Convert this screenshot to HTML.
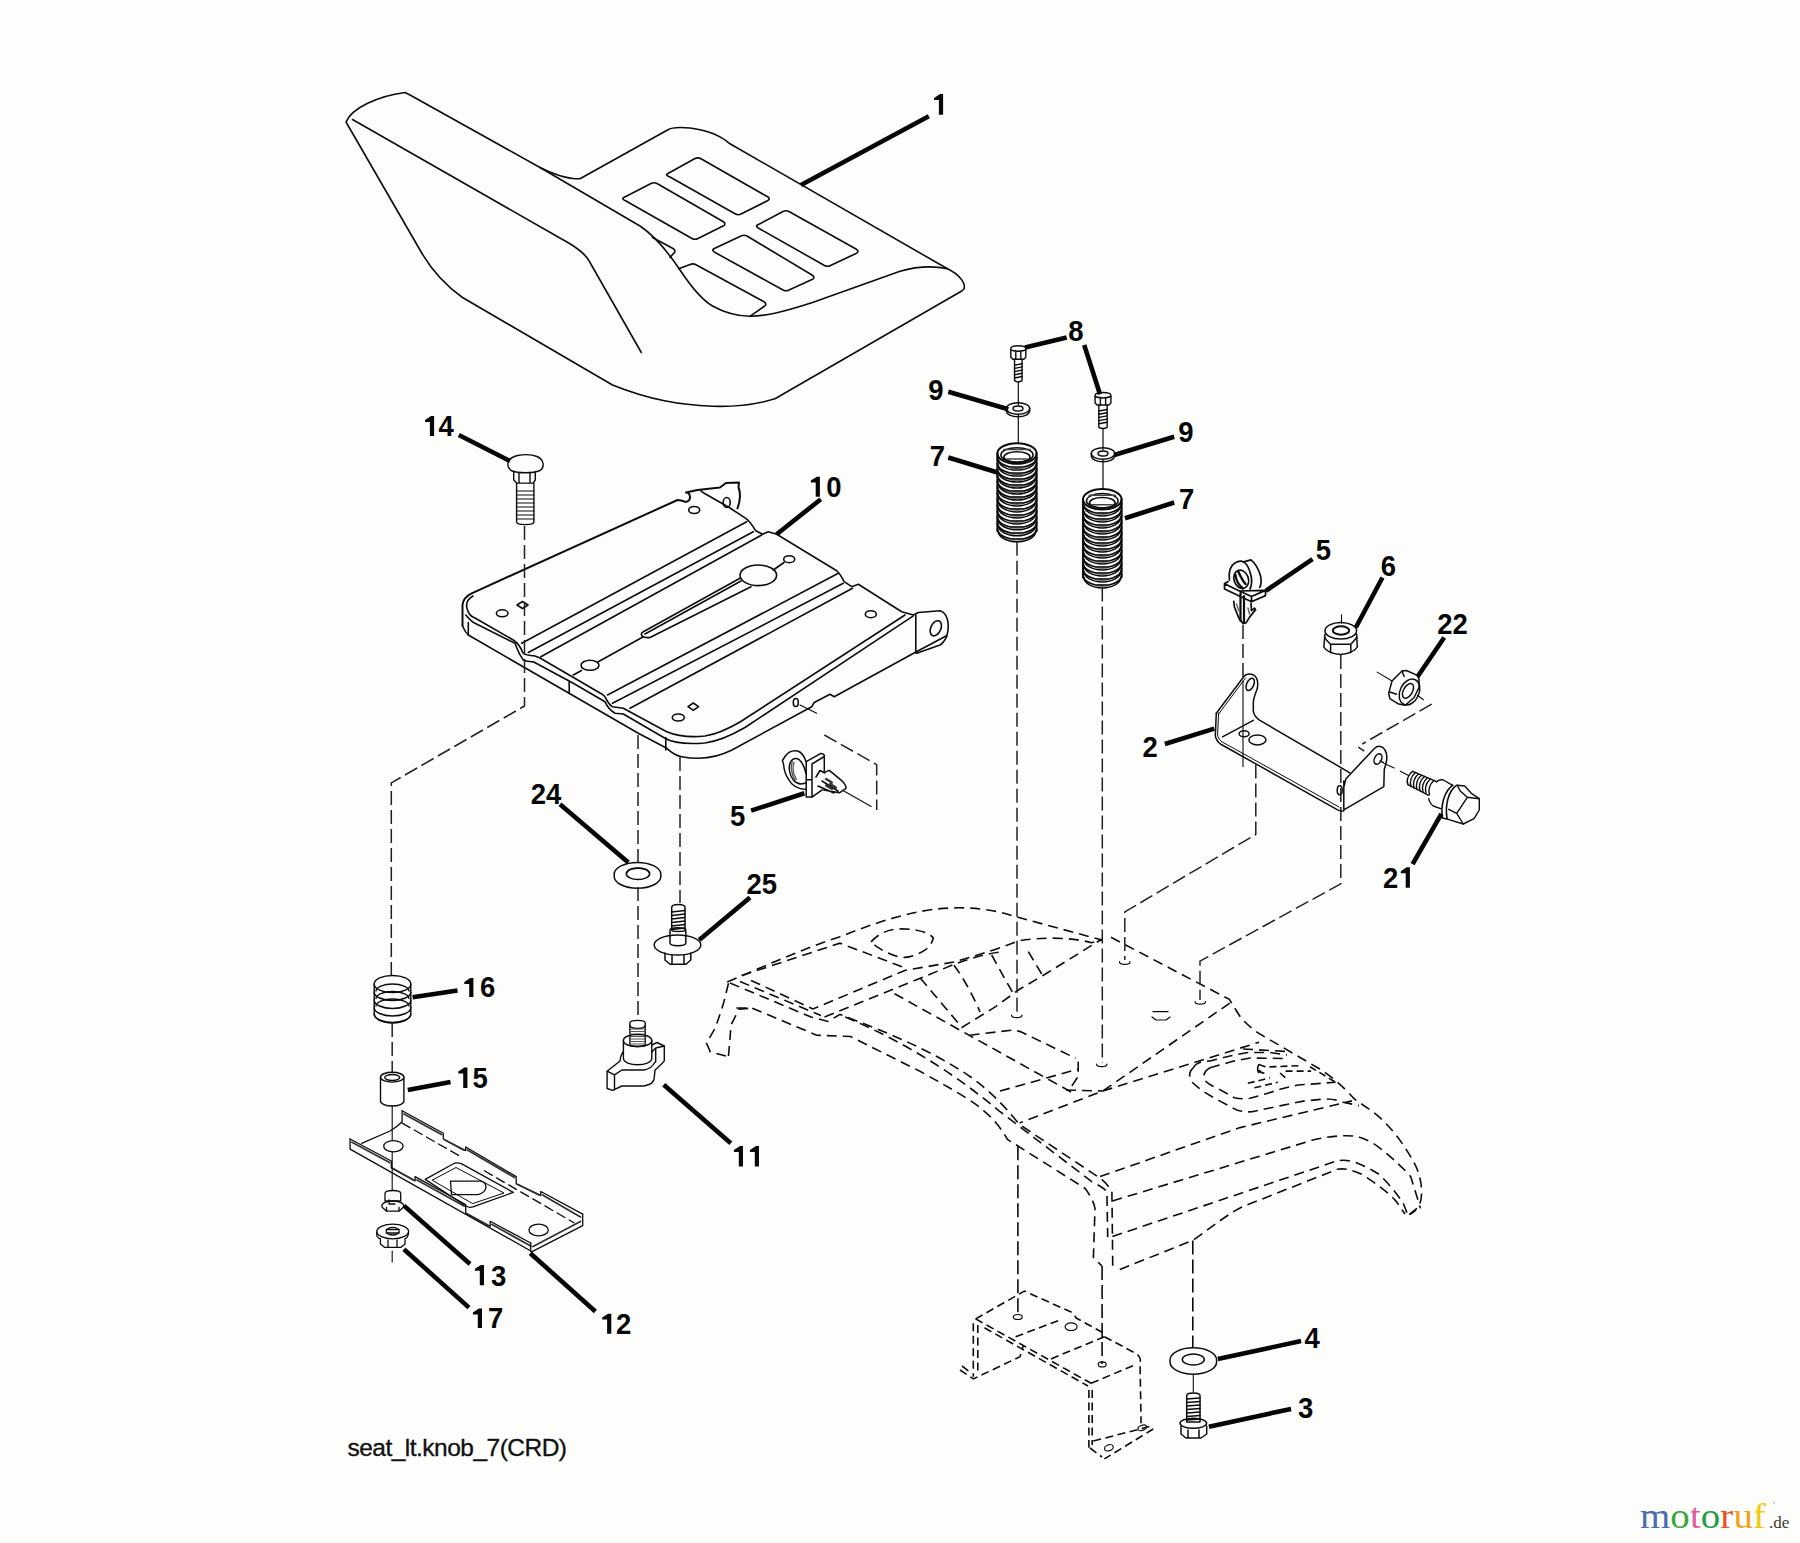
<!DOCTYPE html>
<html><head><meta charset="utf-8">
<style>
html,body{margin:0;padding:0;background:#fdfefc;width:1800px;height:1543px;overflow:hidden}
svg{position:absolute;left:0;top:0}
.t{fill:none;stroke:#0c0c0c;stroke-width:1.6;stroke-linejoin:round;stroke-linecap:round}
.d{fill:none;stroke:#0c0c0c;stroke-width:1.6;stroke-dasharray:10 6}
.c{fill:none;stroke:#222;stroke-width:1.5;stroke-dasharray:14 5}
.L{fill:none;stroke:#050505;stroke-width:4.6;stroke-linecap:butt}
.n{font-family:"Liberation Sans",sans-serif;font-weight:bold;font-size:27.5px;fill:#070707}
</style></head><body>
<svg width="1800" height="1543" viewBox="0 0 1800 1543">
<!-- SEAT 1 -->
<g class="t">
<path d="M346,122 C352,108 378,96 405,92.5 L410,95 L540,167.5 C552,174 568,179 580,178.8 L667.5,130 C672,127 680,127 690,128 C706,130 720,135 730,143.8 L947.5,268.8 C958,274 966,282 964,289 L961.3,291.3 L775,398.8 C755,405 735,407 712.5,406.3 C680,405 650,400 612.5,385 L462.5,297.5 C445,285 430,268 420,250 Z"/>
<path d="M352.5,119.5 L570,243.8 C580,250 587,256 590,262.5 L641.3,352.5"/>
<path d="M540,167.5 L640,226 C655,236 668,252 680,270 C692,288 702,300 712.5,306 C725,313 737,316 750,316.3 C765,316 780,313 812.5,302.5 L900,271.3 C915,267 930,265 947.5,268.8"/>
<path d="M667.5,173.8 L695,158.5 Q698,157 701,158.8 L768,197 Q771,199 767,201 L741,214 Q738,215.5 735,213.8 L670,177 Q665,175 667.5,173.8 Z"/>
<path d="M623.8,197.5 L651,183.5 Q654,182 657,183.5 L723,221.5 Q727,224 723,226 L698,238.5 Q695,240 692,238.5 L626,201 Q621,199 623.8,197.5 Z"/>
<path d="M757.5,225 L783,211.5 Q786,210 789,211.5 L856,249 Q860,251.5 856,253.5 L830.5,265.5 Q827.5,267 824.5,265.5 L760,229 Q755,226.5 757.5,225 Z"/>
<path d="M713.8,248.8 L741,236 Q744,234.5 747,236 L812,275 Q816,277.5 812,279.5 L789,290 Q786,291.5 783,290 L716,253 Q711,250.5 713.8,248.8 Z"/>
<path d="M678.8,268.8 L690,264.5 Q693,263 696,264.8 L763.5,301.5 Q768,304 764,306.5 L750,316.3"/>
<path d="M652.5,237.5 L673,248.5 Q677,251 673,254 L670,257.5"/>
</g>
<path class="L" d="M801,185 L928.8,116.3"/>

<!-- SEAT PAN 10 -->
<g class="t">
<path d="M462.5,625.8 L462.5,605 C463,599 466,596 471.7,593.3 L677.5,500 L682.5,500.8 C686,503 690,501 690,497.5 C690,494 688,492.5 686,492.5 L697.5,490 L720,487.5 L726,483 L739,482.5 L738.5,487.5 C741,493 740,502 737.5,508.3" style="stroke-width:2"/>
<path d="M700.8,490.8 L704.2,493.3 L729.2,507.5 L745.8,518.3 C750,521 752,525 755.8,530.8 L762.5,534.2 L768.3,531.7 L776.7,534.2 L836.7,570.8 C840,573 842,578 844.2,581.7 L851.7,586.7 L858.3,584.2 L901.7,611.7 L913.3,615 L918.3,612.5 L940,610.8 C948,613 950,625 946.7,636.7 C944,642 942,644 940,645 L916.7,653.3"/>
<path d="M473,596 C466,600 466,606 467.5,610 C469,615 472,617 475,618 L513.3,640 C518,643 521,648 523,653 C525,655 528,655.5 535,656 L540,658 L600,693 C604,695 606,698 606.7,700 C609,704 611,706 612.5,706.7 L623.3,708.3 L666.7,731.7 C677,736 690,737.5 705,736 C718,734 728,729 740,722 L905,615"/>
<path d="M465.8,615 C470,620 472,622 475,623.3 L515,643.3 C517,648 518,653 523.3,660 C527,662 530,661.7 533.3,661.7 L573.3,683.3 L605,701.7 C606,704 608,709 615,713.3 L623.3,714 L665,738.3 C672,742.5 685,744.5 705,743 C720,741 732,735 745,727.5 L913.3,615.8"/>
<path d="M462.5,625.8 C464,630 466,633 468.3,635 L638.3,733.3 L666.7,748.3 C672,753 677,756 681.7,756.7 C688,758 694,758.3 698.3,758.3 C712,758 722,755 732,750 L811.7,706.7 L814.2,702.5 L830,694.2 L834.2,696.7 L915,652.5 L946,636"/>
<path d="M468.3,622.5 V635 M569.2,681.7 V693.3 M665.8,737.5 V750 M915.8,615 V653"/>
<path d="M521.7,643.3 L746.7,521.7 M528.3,652.5 L753.3,531.7 M540.8,656.7 L761.7,535 M607.5,695 L838.3,573.3 M612.5,703.3 L843.3,583.3 M630,708.3 L852.5,588.3"/>
<path d="M643.3,631.7 L740,578.3 M645,634 L741,581 M650,637.5 L751,586.7 M643.3,631.7 C639,634 642,638.5 650,637.5 M573.3,675 L581.5,670.5 M598.3,661.7 L643.3,636.7 M773.3,570 L784,562.5"/>
<ellipse cx="758.3" cy="575.3" rx="18.3" ry="10.3"/>
<ellipse cx="789.2" cy="559.2" rx="5.5" ry="3.5"/>
<ellipse cx="502.2" cy="613.3" rx="5.8" ry="3.5"/>
<ellipse cx="590" cy="665.3" rx="9" ry="5"/>
<ellipse cx="678.3" cy="717.5" rx="6" ry="3.5"/>
<ellipse cx="694.2" cy="510" rx="5.5" ry="3.5"/>
<ellipse cx="870.8" cy="614.2" rx="5.5" ry="3.5"/>
<ellipse cx="726.7" cy="502.5" rx="3.5" ry="5"/>
<ellipse cx="935.8" cy="628.3" rx="5" ry="8" transform="rotate(25 935.8 628.3)"/>
<ellipse cx="795.8" cy="702.5" rx="2.5" ry="4"/>
<path d="M517,605 L522.5,601.5 L528,605 L522.5,608.5 Z M688,706.7 L693.3,703 L698.6,706.7 L693.3,710.4 Z"/>
</g>
<path class="L" d="M820.8,499.2 L776.7,534.2"/>
<!-- BOLT 14 -->
<g class="t" style="stroke-width:1.4">
<path d="M511,470.5 C505,465 508,457.5 517.5,455.5 C523,454.5 532,454.5 537,456.5 C544,459.5 545,467 540,470.5 C533,473.5 518,473.5 511,470.5 Z"/>
<path d="M513.7,471.5 V480 L516.6,483.1 H533 L535.3,480 V471.5 M519,472.5 V483 M530,472.5 V483"/>
<path d="M516.6,483.1 V522 C516.6,525.5 533.9,525.5 533.9,522 V483.1"/>
<path d="M516.6,491 H533.9 M516.6,495 H533.9 M516.6,499 H533.9 M516.6,503 H533.9 M516.6,507 H533.9 M516.6,511 H533.9 M516.6,515 H533.9 M516.6,519 H533.9" style="stroke-width:1.2"/>
</g>
<path class="L" d="M458.8,435 L510,461"/>
<!-- SPRINGS / BOLTS 8 / WASHERS 9 -->
<g class="t" style="stroke-width:1.4">
<ellipse cx="1017" cy="453.5" rx="19.6" ry="10.3" style="stroke-width:2"/>
<ellipse cx="1017" cy="455.0" rx="16.1" ry="7.300000000000001" style="stroke-width:1.6"/>
<ellipse cx="1017" cy="457.0" rx="13.100000000000001" ry="5.300000000000001" style="stroke-width:1.6"/>
<path d="M1004,449.5 H1030 M1007,459.0 H1027" style="stroke:#444;stroke-width:1.6"/>
<path d="M997.4,453.5 V531.2 M1036.6,453.5 V531.2" style="stroke-width:2"/>
<path d="M997.4,457.4 A19.6,10.3 0 0 0 1036.6,457.4" style="stroke-width:1.9"/>
<path d="M998.4,459.8 A18.6,10.3 0 0 0 1035.6,459.8" style="stroke-width:1.5"/>
<path d="M997.4,463.4 A19.6,10.3 0 0 0 1036.6,463.4" style="stroke-width:1.9"/>
<path d="M998.4,465.8 A18.6,10.3 0 0 0 1035.6,465.8" style="stroke-width:1.5"/>
<path d="M997.4,469.3 A19.6,10.3 0 0 0 1036.6,469.3" style="stroke-width:1.9"/>
<path d="M998.4,471.7 A18.6,10.3 0 0 0 1035.6,471.7" style="stroke-width:1.5"/>
<path d="M997.4,475.3 A19.6,10.3 0 0 0 1036.6,475.3" style="stroke-width:1.9"/>
<path d="M998.4,477.7 A18.6,10.3 0 0 0 1035.6,477.7" style="stroke-width:1.5"/>
<path d="M997.4,481.3 A19.6,10.3 0 0 0 1036.6,481.3" style="stroke-width:1.9"/>
<path d="M998.4,483.7 A18.6,10.3 0 0 0 1035.6,483.7" style="stroke-width:1.5"/>
<path d="M997.4,487.3 A19.6,10.3 0 0 0 1036.6,487.3" style="stroke-width:1.9"/>
<path d="M998.4,489.7 A18.6,10.3 0 0 0 1035.6,489.7" style="stroke-width:1.5"/>
<path d="M997.4,493.2 A19.6,10.3 0 0 0 1036.6,493.2" style="stroke-width:1.9"/>
<path d="M998.4,495.6 A18.6,10.3 0 0 0 1035.6,495.6" style="stroke-width:1.5"/>
<path d="M997.4,499.2 A19.6,10.3 0 0 0 1036.6,499.2" style="stroke-width:1.9"/>
<path d="M998.4,501.6 A18.6,10.3 0 0 0 1035.6,501.6" style="stroke-width:1.5"/>
<path d="M997.4,505.2 A19.6,10.3 0 0 0 1036.6,505.2" style="stroke-width:1.9"/>
<path d="M998.4,507.6 A18.6,10.3 0 0 0 1035.6,507.6" style="stroke-width:1.5"/>
<path d="M997.4,511.2 A19.6,10.3 0 0 0 1036.6,511.2" style="stroke-width:1.9"/>
<path d="M998.4,513.6 A18.6,10.3 0 0 0 1035.6,513.6" style="stroke-width:1.5"/>
<path d="M997.4,517.2 A19.6,10.3 0 0 0 1036.6,517.2" style="stroke-width:1.9"/>
<path d="M998.4,519.5 A18.6,10.3 0 0 0 1035.6,519.5" style="stroke-width:1.5"/>
<path d="M997.4,523.1 A19.6,10.3 0 0 0 1036.6,523.1" style="stroke-width:1.9"/>
<path d="M998.4,525.5 A18.6,10.3 0 0 0 1035.6,525.5" style="stroke-width:1.5"/>
<path d="M997.4,529.1 A19.6,10.3 0 0 0 1036.6,529.1" style="stroke-width:1.9"/>
<path d="M998.4,531.5 A18.6,10.3 0 0 0 1035.6,531.5" style="stroke-width:1.5"/>
<path d="M1011,467.3 H1023" style="stroke:#333;stroke-width:2.2"/>
<path d="M1011,473.3 H1023" style="stroke:#333;stroke-width:2.2"/>
<path d="M1011,479.2 H1023" style="stroke:#333;stroke-width:2.2"/>
<path d="M1011,485.2 H1023" style="stroke:#333;stroke-width:2.2"/>
<path d="M1011,491.2 H1023" style="stroke:#333;stroke-width:2.2"/>
<path d="M1011,497.2 H1023" style="stroke:#333;stroke-width:2.2"/>
<path d="M1011,503.1 H1023" style="stroke:#333;stroke-width:2.2"/>
<path d="M1011,509.1 H1023" style="stroke:#333;stroke-width:2.2"/>
<path d="M1011,515.1 H1023" style="stroke:#333;stroke-width:2.2"/>
<path d="M1011,521.1 H1023" style="stroke:#333;stroke-width:2.2"/>
<path d="M1011,527.0 H1023" style="stroke:#333;stroke-width:2.2"/>
<path d="M1011,533.0 H1023" style="stroke:#333;stroke-width:2.2"/>
<path d="M1011,539.0 H1023" style="stroke:#333;stroke-width:2.2"/>
<ellipse cx="1102.3" cy="499.3" rx="19.3" ry="10.3" style="stroke-width:2"/>
<ellipse cx="1102.3" cy="500.8" rx="15.8" ry="7.300000000000001" style="stroke-width:1.6"/>
<ellipse cx="1102.3" cy="502.8" rx="12.8" ry="5.300000000000001" style="stroke-width:1.6"/>
<path d="M1089.3,495.3 H1115.3 M1092.3,504.8 H1112.3" style="stroke:#444;stroke-width:1.6"/>
<path d="M1083.0,499.3 V577.3 M1121.6,499.3 V577.3" style="stroke-width:2"/>
<path d="M1083.0,503.2 A19.3,10.3 0 0 0 1121.6,503.2" style="stroke-width:1.9"/>
<path d="M1084.0,505.6 A18.3,10.3 0 0 0 1120.6,505.6" style="stroke-width:1.5"/>
<path d="M1083.0,509.2 A19.3,10.3 0 0 0 1121.6,509.2" style="stroke-width:1.9"/>
<path d="M1084.0,511.6 A18.3,10.3 0 0 0 1120.6,511.6" style="stroke-width:1.5"/>
<path d="M1083.0,515.2 A19.3,10.3 0 0 0 1121.6,515.2" style="stroke-width:1.9"/>
<path d="M1084.0,517.6 A18.3,10.3 0 0 0 1120.6,517.6" style="stroke-width:1.5"/>
<path d="M1083.0,521.2 A19.3,10.3 0 0 0 1121.6,521.2" style="stroke-width:1.9"/>
<path d="M1084.0,523.6 A18.3,10.3 0 0 0 1120.6,523.6" style="stroke-width:1.5"/>
<path d="M1083.0,527.2 A19.3,10.3 0 0 0 1121.6,527.2" style="stroke-width:1.9"/>
<path d="M1084.0,529.6 A18.3,10.3 0 0 0 1120.6,529.6" style="stroke-width:1.5"/>
<path d="M1083.0,533.2 A19.3,10.3 0 0 0 1121.6,533.2" style="stroke-width:1.9"/>
<path d="M1084.0,535.6 A18.3,10.3 0 0 0 1120.6,535.6" style="stroke-width:1.5"/>
<path d="M1083.0,539.2 A19.3,10.3 0 0 0 1121.6,539.2" style="stroke-width:1.9"/>
<path d="M1084.0,541.6 A18.3,10.3 0 0 0 1120.6,541.6" style="stroke-width:1.5"/>
<path d="M1083.0,545.2 A19.3,10.3 0 0 0 1121.6,545.2" style="stroke-width:1.9"/>
<path d="M1084.0,547.6 A18.3,10.3 0 0 0 1120.6,547.6" style="stroke-width:1.5"/>
<path d="M1083.0,551.2 A19.3,10.3 0 0 0 1121.6,551.2" style="stroke-width:1.9"/>
<path d="M1084.0,553.6 A18.3,10.3 0 0 0 1120.6,553.6" style="stroke-width:1.5"/>
<path d="M1083.0,557.2 A19.3,10.3 0 0 0 1121.6,557.2" style="stroke-width:1.9"/>
<path d="M1084.0,559.6 A18.3,10.3 0 0 0 1120.6,559.6" style="stroke-width:1.5"/>
<path d="M1083.0,563.2 A19.3,10.3 0 0 0 1121.6,563.2" style="stroke-width:1.9"/>
<path d="M1084.0,565.6 A18.3,10.3 0 0 0 1120.6,565.6" style="stroke-width:1.5"/>
<path d="M1083.0,569.2 A19.3,10.3 0 0 0 1121.6,569.2" style="stroke-width:1.9"/>
<path d="M1084.0,571.6 A18.3,10.3 0 0 0 1120.6,571.6" style="stroke-width:1.5"/>
<path d="M1083.0,575.2 A19.3,10.3 0 0 0 1121.6,575.2" style="stroke-width:1.9"/>
<path d="M1084.0,577.6 A18.3,10.3 0 0 0 1120.6,577.6" style="stroke-width:1.5"/>
<path d="M1096.3,513.1 H1108.3" style="stroke:#333;stroke-width:2.2"/>
<path d="M1096.3,519.1 H1108.3" style="stroke:#333;stroke-width:2.2"/>
<path d="M1096.3,525.1 H1108.3" style="stroke:#333;stroke-width:2.2"/>
<path d="M1096.3,531.1 H1108.3" style="stroke:#333;stroke-width:2.2"/>
<path d="M1096.3,537.1 H1108.3" style="stroke:#333;stroke-width:2.2"/>
<path d="M1096.3,543.1 H1108.3" style="stroke:#333;stroke-width:2.2"/>
<path d="M1096.3,549.1 H1108.3" style="stroke:#333;stroke-width:2.2"/>
<path d="M1096.3,555.1 H1108.3" style="stroke:#333;stroke-width:2.2"/>
<path d="M1096.3,561.1 H1108.3" style="stroke:#333;stroke-width:2.2"/>
<path d="M1096.3,567.1 H1108.3" style="stroke:#333;stroke-width:2.2"/>
<path d="M1096.3,573.1 H1108.3" style="stroke:#333;stroke-width:2.2"/>
<path d="M1096.3,579.1 H1108.3" style="stroke:#333;stroke-width:2.2"/>
<path d="M1096.3,585.1 H1108.3" style="stroke:#333;stroke-width:2.2"/>
<path d="M1010.8,348.8 Q1010.8,345.8 1018.3,345.8 Q1025.8,345.8 1025.8,348.8 V357.2 L1023.8,359.2 H1012.8 L1010.8,357.2 Z"/>
<path d="M1010.8,349.8 Q1018.3,352.8 1025.8,349.8 M1015.8,350.8 V359.2 M1020.8,350.8 V359.2"/>
<path d="M1014.55,359.2 V380.7 Q1018.3,383.2 1022.05,380.7 V359.2"/>
<path d="M1014.55,365.2 L1022.05,363.7"/>
<path d="M1014.55,368.4 L1022.05,366.9"/>
<path d="M1014.55,371.6 L1022.05,370.1"/>
<path d="M1014.55,374.8 L1022.05,373.3"/>
<path d="M1014.55,378.0 L1022.05,376.5"/>
<path d="M1095.1,395.5 Q1095.1,392.5 1103,392.5 Q1110.9,392.5 1110.9,395.5 V403 L1108.9,405 H1097.1 L1095.1,403 Z"/>
<path d="M1095.1,396.5 Q1103,399.5 1110.9,396.5 M1100.3666666666666,397.5 V405 M1105.6333333333334,397.5 V405"/>
<path d="M1098.85,405 V427.3 Q1103,429.8 1107.15,427.3 V405"/>
<path d="M1098.85,411.0 L1107.15,409.5"/>
<path d="M1098.85,414.2 L1107.15,412.7"/>
<path d="M1098.85,417.4 L1107.15,415.9"/>
<path d="M1098.85,420.6 L1107.15,419.1"/>
<path d="M1098.85,423.8 L1107.15,422.3"/>
<path d="M1006.3,408.5 A11.7,5.8 0 0 1 1029.7,408.5 V411.0 A11.7,5.8 0 0 1 1006.3,411.0 Z"/><path d="M1006.3,408.5 A11.7,5.8 0 0 0 1029.7,408.5"/><ellipse cx="1018" cy="408.5" rx="5" ry="2.5"/>
<path d="M1091.3,453.5 A11.7,5.8 0 0 1 1114.7,453.5 V456.0 A11.7,5.8 0 0 1 1091.3,456.0 Z"/><path d="M1091.3,453.5 A11.7,5.8 0 0 0 1114.7,453.5"/><ellipse cx="1103" cy="453.5" rx="5" ry="2.5"/>
<path d="M1018.3,382 V405 M1018.3,415 V443 M1103,428.5 V450 M1103,460 V489" style="stroke-width:1.2"/>
</g>
<g class="L">
<path d="M1066.7,337.5 L1025,347.5"/>
<path d="M1084.2,345 L1100,394.2"/>
<path d="M948.3,391.7 L1008.3,409.2"/>
<path d="M1114.2,455 L1174.2,436.7"/>
<path d="M948.3,457.5 L997.5,472.5"/>
<path d="M1125,518.3 L1174.2,502.5"/>
</g>


<!-- CLIP 5 upper -->
<g class="t" style="stroke-width:1.7">
<path d="M1229.4,580 C1228.5,572 1230,566 1234.9,563 C1238,561 1241,560.5 1243.7,561.9 L1251,559.9 C1255,563 1259,570 1260.8,577 C1261.5,582 1261,585 1259.8,587.3"/>
<path d="M1243.7,561.9 C1247,564 1250,570 1251.5,578 C1252,584 1251,587 1250,589"/>
<ellipse cx="1241.2" cy="579.3" rx="7.2" ry="9.3" transform="rotate(-20 1241.2 579.3)"/>
<path d="M1235.5,575 C1236,580 1238.5,585 1243,588.5 M1238,571 C1240,575 1242,580 1245.5,584" style="stroke-width:2.4"/>
<path d="M1224.5,583.7 L1228.1,581.6 M1224.5,583.7 L1239.5,591 L1264.4,590.4 M1224.5,583.7 V588.9 L1251.5,601.8 L1265.5,595.6 V590.4 M1239.5,591 L1251.5,596.5 V601.8 M1251.5,596.5 L1265.5,590.4"/>
<path d="M1233.8,601.3 L1234.4,607 L1239,618.4 L1243.2,623.6 L1246.3,622.6 L1249.4,617.4 L1255.6,609.6 L1254.6,608.1 L1251.5,610.7 L1251,603.4"/>
<path d="M1240.5,593 V621 M1244,596 V622" style="stroke-width:2.2"/>
<path d="M1236.5,604 L1239,611 M1248,608 L1249.5,614" style="stroke:#666;stroke-width:1.5"/>
</g>
<path class="L" d="M1312.5,559.2 L1265.8,590.8"/>
<!-- NUT 6 -->
<g class="t" style="stroke-width:1.5">
<ellipse cx="1340.8" cy="630.8" rx="15.8" ry="8.3"/>
<ellipse cx="1341" cy="630.5" rx="8.2" ry="4.2" style="stroke-width:2"/>
<path d="M1325,634 L1323.8,647 C1326,651 1330,653.5 1340.5,654.5 C1351,653.5 1355,651 1357.3,647 L1356.6,634"/>
<path d="M1330.6,644.3 H1350.8 M1330.6,644.3 V652.5 M1350.8,644.3 V652.5 M1324.5,637 C1326,640 1329,643 1330.6,644.3 M1357,637 C1355,640 1352,643 1350.8,644.3"/>
<path d="M1341.5,615 V623" style="stroke-width:1"/>
</g>
<path class="L" d="M1382.5,577.5 L1355.8,627.5"/>
<!-- NUT 22 -->
<g class="t" style="stroke-width:1.5">
<path d="M1388.7,693.1 L1392,681 L1402,671 L1406.4,670.5 L1417.4,675.4 L1419,679.3 V687.5 L1414.1,697.5 L1405.3,705.2 L1398.7,704.1 L1389.8,698.6 Z"/>
<ellipse cx="1409.5" cy="692" rx="9.5" ry="13.5" transform="rotate(25 1409.5 692)"/>
<ellipse cx="1408" cy="690.9" rx="4.5" ry="8" transform="rotate(30 1408 690.9)"/>
<path d="M1402,671 L1404.2,676.5 M1389.8,692 L1396.4,694.2"/>
<path d="M1377.2,672.1 L1392,681 M1417.4,695.3 L1423.4,699.7" style="stroke-width:1.1"/>
</g>
<path class="L" d="M1444.2,637.5 L1417.5,676.7"/>
<!-- BRACKET 2 -->
<g class="t" style="stroke-width:1.5">
<path d="M1216.3,713.2 L1244.1,676.2 C1247,673 1252,673.5 1255,676 C1258,679 1258,684 1257.4,688 C1256,693 1253.5,697 1253.3,702 V711.1 C1254,716 1257,719 1261.6,721.4 L1349.9,772.8"/>
<path d="M1218.5,714.2 L1245.5,678" style="stroke-width:1"/>
<path d="M1216.3,713.2 L1215.3,735.8 C1216,740 1218,742 1220.4,744 L1337.6,809.8 C1340,811 1342,811.5 1343.8,810.8"/>
<path d="M1218.6,713 L1217.6,735 C1218,738 1220,740.5 1222,741.8 L1339,807" style="stroke-width:1"/>
<path d="M1222.5,736.8 L1253.3,720.4"/>
<path d="M1343.8,787.2 L1345.8,779 L1374.6,748.2 C1378,745 1383,746 1385,750 C1388,755 1387,762 1384.3,769.1 L1383.8,786.7 L1343.8,809.8 V781"/>
<ellipse cx="1250.2" cy="684.4" rx="3.5" ry="6.5" transform="rotate(25 1250.2 684.4)"/>
<ellipse cx="1378" cy="759" rx="3.5" ry="5.5" transform="rotate(25 1378 759)"/>
<ellipse cx="1244.1" cy="733.7" rx="5" ry="3"/>
<ellipse cx="1257.4" cy="739.9" rx="8.5" ry="5"/>
<ellipse cx="1339.7" cy="790.2" rx="2.5" ry="4.5"/>
</g>
<path class="L" d="M1164.9,744 L1214.3,728.6"/>
<!-- BOLT 21 -->
<g class="t" style="stroke-width:1.4">
<path d="M1412.7,771.3 L1436,781.3 M1408,784.7 L1428.7,795.3"/>
<path d="M1412.7,771.3 C1408,774 1406,781 1408,784.7"/>
<path d="M1415.5,772.5 C1411,776 1409.5,782 1411,786.5 M1418.5,774 C1414,777.5 1412.5,783.5 1414,788 M1421.5,775.3 C1417,778.8 1415.5,784.8 1417,789.3 M1424.5,776.5 C1420,780 1418.5,786 1420,790.5 M1427.5,777.8 C1423,781.3 1421.5,787.3 1423,791.8 M1430.5,779 C1426,782.5 1424.5,788.5 1426,793 M1434,780.5 C1429.5,784 1428,790 1429.5,794.5"/>
<path d="M1436.5,782 C1438,780 1441,779.5 1443.3,780 L1452.7,785.3 M1428.7,798.7 C1429.5,802 1431,804.5 1433.3,806 L1440.7,808.7"/>
<path d="M1452.7,785.3 C1444,791 1440.5,806 1442.5,818 L1448,819.3 M1456.5,785.3 C1448,791 1445,806 1447,818.5" style="stroke-width:1.6"/>
<path d="M1457.3,785.3 L1464.7,786 L1471.3,793.3 L1479.3,798.7 V810 L1474,818.7 L1463.3,824 L1448,819.3"/>
<path d="M1460,790.7 L1467.3,797.3 L1456.7,813.3 L1448.7,809.3 M1467.3,797.3 L1479.3,798.7 M1456.7,813.3 L1463.3,824 M1457.3,785.3 L1460,790.7"/>
<path d="M1384.3,763.6 L1394.2,768 M1400.3,771.3 L1408.6,775.5" style="stroke-width:1.1"/>
</g>
<path class="L" d="M1412.6,864.2 L1441.4,813.9"/>
<!-- CLIP 5 lower -->
<g class="t" style="stroke-width:1.5">
<path d="M806.2,762 C804,755 800,751.5 797.6,750.9 C792,750 788,752 785,756.5 L782.4,760.5 L783.5,764 C784,770 786,776 789,780 C792,786 799,789 806.2,789.5"/>
<path d="M806.2,774 C804.5,766 800.5,759 796.5,758.5 C791,758 788.5,764 789.5,771 C790.5,778 795,783.5 801,784 L806.2,783"/>
<path d="M792.5,761 C790.5,766 791,774 795,780 M794,762.5 C792.5,767 793,774 796.5,779.5" style="stroke:#555;stroke-width:1.3"/>
<path d="M806.2,761.7 L820,753.8 Q822.5,752.8 824.3,755.2 V771.1 M806.2,761.7 V797.1 H812 V764 L824.3,756.5 M812,797.1 L822.1,789.9 M806.2,779.8 H812"/>
<path d="M823.6,772.6 L829.3,770.4 L842.3,781.2 C845,784 846.5,786 846,788.4 L839.4,792.8 L823.6,789.9 M816,777 L820,770.5 L825,773 M822,781 L838,791 M818,786 L834,793" />
<path d="M826,779 L832,782.5 M830,784 L836,787.5 M826,785.5 L832,789" style="stroke-width:2.2;stroke:#333"/>
<path d="M843,790.6 L871.2,806.5" style="stroke-width:1.1"/>
</g>
<path class="L" d="M751.1,810.6 L804.4,793.3"/>


<!-- WASHER 24 -->
<g class="t" style="stroke-width:1.5">
<path d="M614.2,874.2 A23.3,11.7 0 0 1 660.8,874.2 V876.5 A23.3,11.7 0 0 1 614.2,876.5 Z"/>
<ellipse cx="638" cy="873.8" rx="11.7" ry="5.8"/>
<path d="M626.5,873 A11.7,5.8 0 0 1 649.5,873" />
</g>
<path class="L" d="M560,804.2 L628.3,862.5"/>
<!-- BOLT 25 -->
<g class="t" style="stroke-width:1.5">
<path d="M671.7,907.5 C671.7,903.5 685,903.5 685,907.5 V930 C685,932 671.7,932 671.7,930 Z"/>
<path d="M671.7,912 L685,910.5 M671.7,915.5 L685,914 M671.7,919 L685,917.5 M671.7,922.5 L685,921 M671.7,926 L685,924.5 M671.7,929.5 L685,928"/>
<path d="M670,930 V943 C670,946.5 685.8,946.5 685.8,943 V930 C685.8,927 670,927 670,930 Z"/>
<path d="M654.2,945 A23.3,10 0 0 1 700.8,945 A23.3,10 0 0 1 654.2,945 Z"/>
<path d="M665,953 V960 L670,964.2 H686 L690.8,960 V953 M672,955 V964 M684,955 V964"/>
</g>
<path class="L" d="M750,897.5 L699.2,940"/>
<!-- SPRING 16 -->
<g class="t" style="stroke-width:1.4">
<ellipse cx="392.5" cy="984" rx="18.3" ry="8.5"/>
<path d="M374.2,984 V1014 C374.2,1018 380,1023 392.5,1023 C405,1023 410.8,1018 410.8,1014 V984"/>
<path d="M374.2,992 A18.3,8.5 0 0 0 410.8,992 M374.2,1000 A18.3,8.5 0 0 0 410.8,1000 M374.2,1007.5 A18.3,8.5 0 0 0 410.8,1007.5 M374.2,1014 A18.3,8.5 0 0 0 410.8,1014"/>
<path d="M376,991 A16.5,7 0 0 1 409,991 M376,998.5 A16.5,7 0 0 1 409,998.5 M376,1006 A16.5,7 0 0 1 409,1006"/>
</g>
<path class="L" d="M412.6,997.2 L457.5,990.4"/>
<!-- SPACER 15 -->
<g class="t" style="stroke-width:1.4">
<ellipse cx="392.2" cy="1077.2" rx="11.7" ry="4.9"/>
<ellipse cx="392.2" cy="1077.5" rx="7.5" ry="3"/>
<path d="M380.5,1077.2 V1101 A11.7,5 0 0 0 403.9,1101 V1077.2"/>
</g>
<path class="L" d="M407.8,1089.9 L450.5,1082"/>
<!-- PLATE 12 -->
<g class="t" style="stroke-width:1.3">
<path d="M350.1,1139 L391.3,1161 V1167.9 L415.1,1180.9 V1176.6 L465.7,1204.5 V1213 L490.2,1226.5 V1221.3 L530.7,1243"/>
<path d="M352,1142.3 L389.5,1162.5 M393,1168.5 L413.5,1180 M417,1180 L464,1206 M467.5,1214 L488.5,1225.5 M492,1224.5 L530.7,1246" style="stroke-width:1.8;stroke:#333"/>
<path d="M350.1,1139 V1149.1 L532.1,1251.7 M530.7,1243 V1251.7 M532.1,1251.7 L582.7,1225.7 V1214.1"/>
<path d="M533,1246.5 L580.5,1221.5" style="stroke-width:1.8;stroke:#333"/>
<path d="M402.1,1110.8 L443.3,1133.2 V1139 L465.7,1150.6 V1147 L516.2,1176.6 V1183.8 L540.8,1195.3 V1191.5 L582.7,1214.1"/>
<path d="M404,1114 L441.5,1134.5 M445,1140 L463.5,1150 M467.5,1150 L514.5,1177.5 M518,1184.5 L539,1195 M542.5,1195 L580.5,1217" style="stroke-width:1.8;stroke:#333"/>
<path d="M402.1,1110.8 V1121.7 C399,1125 395,1128 390,1131 L361.7,1143.3"/>
<path d="M402.1,1123.1 L462.8,1157.8 M484.4,1170.8 L574,1222.8" style="stroke-dasharray:9 5"/>
<path d="M425.2,1179.4 L453,1164 Q456,1162 461.3,1163.6 L513.3,1192.4 L472.9,1206.9 Q469,1208 466,1206 Z"/>
<path d="M432.5,1180 L456,1167.5 L504,1193 L473,1203.5 Z" style="stroke-width:1"/>
<path d="M450.5,1181.2 H480.8 C488,1183 488,1192 478,1194.6 H451.5 Z"/>
<ellipse cx="393.4" cy="1146.2" rx="9.7" ry="5.6"/>
<ellipse cx="538.6" cy="1230" rx="9.7" ry="5.8"/>
</g>
<path class="L" d="M530.3,1253.2 L595.4,1311.5"/>
<!-- NUT 13 -->
<g class="t" style="stroke-width:1.3">
<path d="M385,1193.5 C385,1189.5 400.7,1189.5 400.7,1193.5 V1201 H385 Z"/>
<path d="M381.9,1205.5 A10.85,4.5 0 0 1 403.6,1205.5 V1207 L399,1211.2 H386.5 L381.9,1207 Z"/>
<path d="M389,1200 V1204 H395 M386.5,1207.5 V1211 M399,1207.5 V1211"/>
</g>
<path class="L" d="M403.9,1205.6 L470,1263.9"/>
<!-- NUT 17 -->
<g class="t" style="stroke-width:1.3">
<ellipse cx="392.7" cy="1231.5" rx="15.9" ry="7.3"/>
<ellipse cx="392.7" cy="1231.2" rx="6.5" ry="3.8"/>
<path d="M386.2,1229.5 H399.2 M386.2,1233 H399.2"/>
<path d="M376.8,1232 V1236 C378,1238 380,1238.7 380.4,1238.7 V1244 L384.5,1247.3 H401 L405,1244 V1238.7 C406,1238.7 408.6,1237 408.6,1232 M388,1240 V1247 M397,1240 V1247"/>
</g>
<path class="L" d="M403.9,1249.3 L469,1307.6"/>
<!-- KNOB 11 -->
<g class="t" style="stroke-width:1.4">
<path d="M629.9,1023 C629.9,1019.5 645.2,1019.5 645.2,1023 V1045 C645.2,1047 629.9,1047 629.9,1045 Z"/>
<path d="M629.9,1025.5 A7.65,3 0 0 0 645.2,1025.5"/>
<path d="M630,1029 H645 M630,1031.5 H645 M630,1034 H645 M630,1036.5 H645 M630,1039 H645 M630,1041.5 H645 M630,1044 H645" style="stroke:#555;stroke-width:1"/>
<path d="M623.4,1040.5 C623.4,1032.5 651.8,1032.5 651.8,1040.5 C651.8,1048.5 623.4,1048.5 623.4,1040.5 Z"/>
<path d="M623.4,1040.5 V1058 C623.4,1067 651.8,1067 651.8,1058 V1040.5"/>
<path d="M623,1052 C621,1055 620,1058 620,1061 L607.1,1071.2 V1088.5 L612.6,1090.3 L621.9,1086 H644 C650,1085 653,1082 653.9,1079.9 L655.1,1070 C658,1067 662,1064 664.3,1060.8 V1046 L657,1042.5 L651.8,1045"/>
<path d="M607.1,1071.2 L614.5,1074.9 V1089.7 M614.5,1074.9 L621.9,1070 H644 C650,1069 653,1066 655.1,1062 M651.8,1052 L655.7,1048 L664.3,1046 M655.7,1048 V1062"/>
</g>
<path class="L" d="M663.7,1084.8 L730.8,1143.3"/>


<!-- FENDER (dashed) -->
<g class="d">
<path d="M727.2,982 C765,966 800,950 840,936.7 C870,925 900,914 933.3,909.4 C960,906 990,908 1013.3,916 L1102,940"/>
<path d="M1111,937.3 L1229.4,999.4 C1235,1008 1240,1018 1245,1022 C1250,1027 1255,1031 1260.6,1034.4 L1318.9,1068.5 C1330,1075 1345,1088 1353.9,1098.6 L1373.3,1112.2 C1390,1125 1405,1145 1416.1,1166.7 C1422,1180 1424,1198 1418,1207.5 L1408.3,1215.3"/>
<path d="M1119.8,1269.5 L1193.1,1240.2 C1215,1225 1230,1212 1244.4,1206 L1337.3,1169.3 C1345,1168 1352,1170 1361.8,1174.2 C1375,1183 1388,1192 1396,1201.1 L1405,1214"/>
<path d="M1112.4,1236.5 L1337.3,1160.8 C1342,1160 1348,1160 1354.4,1162 C1365,1166 1372,1170 1378.9,1174.2 C1390,1185 1398,1195 1403.3,1203.5 L1408.2,1215.8 L1416,1210"/>
<path d="M1112.4,1201 L1312.9,1140 C1330,1136 1345,1135 1356.9,1136.3 C1368,1140 1375,1144 1378.9,1147.3 C1395,1160 1405,1170 1410.7,1176.7 C1415,1190 1418,1200 1420.4,1208.4"/>
<path d="M1100.1,1176.5 L1240,1127.6 L1352,1100.9"/>
<path d="M1229.8,1003.1 L1102.7,1091.1 L1019.6,1122.9"/>
<path d="M741.5,975.6 L840,943.2 L904.8,967.8"/>
<path d="M871.1,941.9 C880,932 890,929 902.2,928.9 C918,929 930,933 933.3,938 C932,944 928,948 925.6,949.6 C918,955 910,957 904.8,957.4 C895,957 888,953 881.5,949.6 C876,946 873,944 871.1,941.9"/>
<path d="M751,980.4 L813,1009 L904.8,970.4 L954,962 C970,957 990,952 1018.7,940.9 C1040,937 1070,937 1091.6,942.7 L1102,940"/>
<path d="M740,981.5 L821,1015.6"/>
<path d="M824.5,1017 L952.9,964.9 C970,958 990,953 1000,952.2"/>
<path d="M730,983 L811,1017 L828,1021.5 L840,1014.4 C880,1030 920,1045 960,1070 C980,1082 1000,1100 1019.2,1124.3 L1100.1,1178.2 C1104,1181 1108,1185 1111.9,1191.7 L1112.8,1270.9"/>
<path d="M845.2,1017 C900,1040 950,1070 999,1110.8 L1091.7,1181.6 C1098,1185 1104,1188 1106.9,1191.7 L1107.7,1237.2"/>
<path d="M736.3,1008 L751.9,1008 L816.7,1035.2 L850.4,1036.5 L920.4,1071.5 C950,1088 975,1102 983.8,1110.8 C995,1120 1002,1130 1007.4,1139.4 L1085,1188.3 C1090,1195 1094,1202 1095,1208.5 L1093.4,1257.4 L1101.8,1265.9"/>
<path d="M728.5,983.3 L723.3,1004.1 L715.6,1027.4 L706.5,1043 L710.4,1052 L725.9,1056"/>
<path d="M728.5,1056 L731.1,1024.8 L738.9,1009.3 L751.9,1008"/>
<path d="M920.4,978.2 L961.9,1027.4 L995.6,1006.7 L1018.3,990 L1046.7,973.3 L1101.7,939.2"/>
<path d="M954,965.2 C965,980 975,1000 980,1011.9 M894.5,993.7 L1072.2,1092.6 M969.6,1035.2 L1013.3,1030 L1020.4,1031.6 L1075.6,1058.2 M991.7,955 C1000,970 1008,985 1013.3,993.3 M1028.3,951.7 L1043.3,976.7"/>
<path d="M1193.3,1067.8 C1188,1072 1189,1079 1193.3,1083.3 C1198,1088 1205,1093 1220,1101.1 L1236.7,1110 C1243,1112 1248,1112 1252.2,1111.7 L1281.1,1105.6 L1303.3,1101.1 L1325.6,1098.9 C1335,1099 1340,1101 1343.3,1102.2 L1358.9,1105.6"/>
<path d="M1193.3,1067.8 C1196,1063 1202,1061 1210,1061 L1232.2,1055.5 L1247.8,1052.5 L1270,1052.5 L1287,1055 M1243,1049 L1287,1051.5"/>
<path d="M1210,1067.8 C1204,1071 1203,1076 1204.4,1080 C1208,1084 1212,1086 1216.7,1087.8 L1234.4,1097.8 C1240,1099 1245,1099 1250,1098.3 L1267.8,1093.3 L1281.1,1088.9 L1297.8,1085 L1314.4,1083.9 L1335.6,1082.2 M1210,1067.8 L1232,1061.5 L1250,1058 L1287,1058.5"/>
<path d="M1310,1066.7 L1335.6,1082.2 M1285.6,1071.1 H1311.1 M1258.9,1064.4 C1262,1066 1264,1066 1266,1067 L1301.1,1065.6 M1258.9,1070 C1260,1072 1262,1073 1264.4,1073.3 M1247.8,1083.3 L1270,1077.8 M1254.4,1087.8 L1277.8,1082.2 M1280,1073 L1287,1079" style="stroke-dasharray:7 4"/>
<path d="M1259,1064 C1256,1070 1258,1073 1262,1075 M1102.7,1091.1 L1259.1,1042.2 M1000,1091.1 L1078.2,1069.1 M1078.2,1061.8 V1076.4 L1068.4,1091.1 M1066,1090 L1102.7,1091"/>
<path d="M1017.9,1146.2 V1317 M1102.1,1265.9 V1364 M1192.8,1240.6 V1347" style="stroke-dasharray:14 5"/>
</g>
<g class="t" style="stroke-width:1.2">
<path d="M1011.5,1015 A5,2.5 0 0 0 1022,1015 M1096.5,1064 A5,2.5 0 0 0 1107,1064 M1119.5,961.7 A5,2.5 0 0 0 1130,961.7 M1195,1001.5 A5,2.5 0 0 0 1205.5,1001.5 M1153,1011.7 H1168 M1152,1017 L1156,1020 H1166 L1170,1017"/>
</g>


<!-- CENTER / ASSEMBLY LINES -->
<g class="c">
<path d="M524.5,526 V706 L391.3,782.9 V975"/>
<path d="M392.2,1023 V1072"/>
<path d="M638,735 V862 M638,887 V1016"/>
<path d="M680,757 V903"/>
<path d="M1017,541.8 V1013"/>
<path d="M1102.3,587.6 V1063"/>
<path d="M1243,625 V680"/>
<path d="M1255.8,764.6 V834.4 L1124.8,911.9 V960"/>
<path d="M1340.8,655 V883.8 L1200,961.1 V1000"/>
<path d="M1431.7,704.1 L1362.3,744" />
<path d="M1358.2,747.1 L1364.3,751.2 M1379.7,760.4 L1384,763" style="stroke-dasharray:none"/>
<path d="M824.3,735 L876.7,764.6 V810"/>
</g>
<g class="t" style="stroke-width:1.1">
<path d="M392.2,1106 V1140 M392.2,1151.5 V1190 M392.2,1251 V1262 M1243,681 V766.6 M800,705 L816.7,713.3 M1341.5,615 V623"/>
</g>
<!-- BOTTOM BRACKET (dashed) -->
<g class="d" style="stroke-dasharray:8 4.5">
<path d="M975.6,1318.9 L1024.4,1291.1 L1068.9,1311.1 C1072,1312 1075,1315 1076,1318 L1102.2,1332.2"/>
<path d="M1104.4,1336.7 L1137,1354 C1140,1357 1141,1360 1140,1362 L1141.1,1423.3"/>
<path d="M975.6,1318.9 L1091.1,1383.3 M984.4,1327.8 L1088,1386 M1091.1,1383.3 L1133.3,1365.6 M1051.1,1358.9 L1104.4,1336.7 M1015.6,1336.7 L1060,1320"/>
<path d="M973.3,1323.3 V1376.7 M977.8,1325 V1372 M960,1370 L973.3,1378.9 L1020,1356.7 L1023.3,1345.6 M962,1366 L970,1372"/>
<path d="M1088.9,1390 V1447.8 M1092.2,1390 V1445 M1093.3,1441.1 L1153.3,1425.6 M1153.3,1429 L1104.4,1458.9 M1090,1448 L1102,1457"/>
</g>
<g class="t" style="stroke-width:1.2">
<ellipse cx="1017.8" cy="1317" rx="4.5" ry="2.5"/>
<ellipse cx="1071.1" cy="1326.7" rx="6" ry="3.8"/>
<ellipse cx="1102.2" cy="1364.4" rx="4" ry="2.5"/>
<ellipse cx="1108.9" cy="1447.8" rx="4.5" ry="3" transform="rotate(-20 1108.9 1447.8)"/>
<ellipse cx="1142.2" cy="1427.8" rx="4.5" ry="2.5" transform="rotate(-20 1142.2 1427.8)"/>
</g>
<!-- WASHER 4 / BOLT 3 -->
<g class="t" style="stroke-width:1.5">
<path d="M1170,1360 A23.3,12.2 0 0 1 1216.6,1360 V1362 A23.3,12.2 0 0 1 1170,1362 Z"/>
<ellipse cx="1193.3" cy="1359.5" rx="11" ry="5.5"/>
<path d="M1186.7,1395.5 C1186.7,1392 1200,1392 1200,1395.5 V1422 H1186.7 Z"/>
<path d="M1186.7,1399 L1200,1398 M1186.7,1402.5 L1200,1401.5 M1186.7,1406 L1200,1405 M1186.7,1409.5 L1200,1408.5 M1186.7,1413 L1200,1412 M1186.7,1416.5 L1200,1415.5 M1186.7,1420 L1200,1419"/>
<ellipse cx="1193.3" cy="1423.3" rx="13.3" ry="5"/>
<path d="M1181,1426 V1434 L1186,1438 H1201 L1206.7,1434 V1426 M1188,1430 V1438 M1199,1430 V1438"/>
</g>
<g class="t" style="stroke-width:1.1"><path d="M1193.3,1374 V1392"/></g>
<path class="L" d="M1217.8,1358.9 L1301.1,1341.1"/>
<path class="L" d="M1208.9,1426.7 L1291.1,1408.9"/>
<!-- caption -->
<text x="347.5" y="1455.6" textLength="219.5" lengthAdjust="spacing" style="font-family:'Liberation Sans',sans-serif;font-size:24.5px;fill:#111;stroke:#111;stroke-width:0.35">seat_lt.knob_7(CRD)</text>
<!-- logo -->
<text transform="translate(1640,1528) scale(1.08,1)" style="font-family:'Liberation Serif',serif;font-size:36px;letter-spacing:0.1px"><tspan fill="#4a6cb4">m</tspan><tspan fill="#3aa53a">o</tspan><tspan fill="#e35d9c">t</tspan><tspan fill="#1f9e45">o</tspan><tspan fill="#e4531c">r</tspan><tspan fill="#f0a21d">u</tspan><tspan fill="#f5c90a">f</tspan></text>
<text x="1769" y="1528" style="font-family:'Liberation Serif',serif;font-size:17px;fill:#3a3a2a">.de</text>
<circle cx="1774" cy="1503" r="0.8" fill="#999"/>

<!-- LABELS -->
<text class="n" transform="translate(1068.2,341.0) scale(1,1.1)">8</text>
<text class="n" transform="translate(928.2,400.2) scale(1,1.1)">9</text>
<text class="n" transform="translate(1178.2,441.9) scale(1,1.1)">9</text>
<text class="n" transform="translate(929.8,466.0) scale(1,1.1)">7</text>
<text class="n" transform="translate(1179.0,508.5) scale(1,1.1)">7</text>
<text class="n" transform="translate(1315.7,560.2) scale(1,1.1)">5</text>
<text class="n" transform="translate(1380.7,576.0) scale(1,1.1)">6</text>
<text class="n" transform="translate(1437.3,634.4) scale(1,1.1)">22</text>
<text class="n" transform="translate(1142.4,756.5) scale(1,1.1)">2</text>
<text class="n" transform="translate(730.0,825.8) scale(1,1.1)">5</text>
<text class="n" transform="translate(530.8,803.9) scale(1,1.1)">24</text>
<text class="n" transform="translate(746.5,893.5) scale(1,1.1)">25</text>
<text class="n" transform="translate(1304.4,1348.0) scale(1,1.1)">4</text>
<text class="n" transform="translate(1297.9,1418.0) scale(1,1.1)">3</text>
<path d="M940.0,94.1 H943.1 V114.7 H938.9 V100.0 H934.0 V98.0 Z" fill="#070707"/>
<path d="M431.0,416.0 H434.1 V436.0 H429.9 V421.9 H425.0 V419.9 Z" fill="#070707"/>
<text class="n" transform="translate(438.5,436.2) scale(1,1.1)">4</text>
<path d="M816.8,476.7 H819.9 V496.7 H815.7 V482.6 H810.8 V480.6 Z" fill="#070707"/>
<text class="n" transform="translate(826.2,496.9) scale(1,1.1)">0</text>
<path d="M470.3,978.0 H473.4 V997.0 H469.2 V983.9 H464.3 V981.9 Z" fill="#070707"/>
<text class="n" transform="translate(479.9,997.2) scale(1,1.1)">6</text>
<path d="M464.3,1067.5 H467.4 V1087.9 H463.2 V1073.4 H458.3 V1071.4 Z" fill="#070707"/>
<text class="n" transform="translate(472.5,1088.1) scale(1,1.1)">5</text>
<path d="M480.9,1264.9 H484.0 V1285.3 H479.8 V1270.8 H474.9 V1268.8 Z" fill="#070707"/>
<text class="n" transform="translate(491.0,1285.5) scale(1,1.1)">3</text>
<path d="M478.9,1308.6 H482.0 V1328.0 H477.8 V1314.5 H472.9 V1312.5 Z" fill="#070707"/>
<text class="n" transform="translate(488.1,1328.2) scale(1,1.1)">7</text>
<path d="M608.2,1313.7 H611.3 V1333.8 H607.1 V1319.6 H602.2 V1317.6 Z" fill="#070707"/>
<text class="n" transform="translate(616.0,1334.0) scale(1,1.1)">2</text>
<path d="M739.9,1146.1 H743.0 V1166.6 H738.8 V1152.0 H733.9 V1150.0 Z" fill="#070707"/>
<path d="M755.9,1146.1 H759.0 V1166.6 H754.8 V1152.0 H749.9 V1150.0 Z" fill="#070707"/>
<text class="n" transform="translate(1382.9,888.0) scale(1,1.1)">2</text>
<path d="M1406.8,867.3 H1409.9 V887.8 H1405.7 V873.2 H1400.8 V871.2 Z" fill="#070707"/>
</svg>
</body></html>
